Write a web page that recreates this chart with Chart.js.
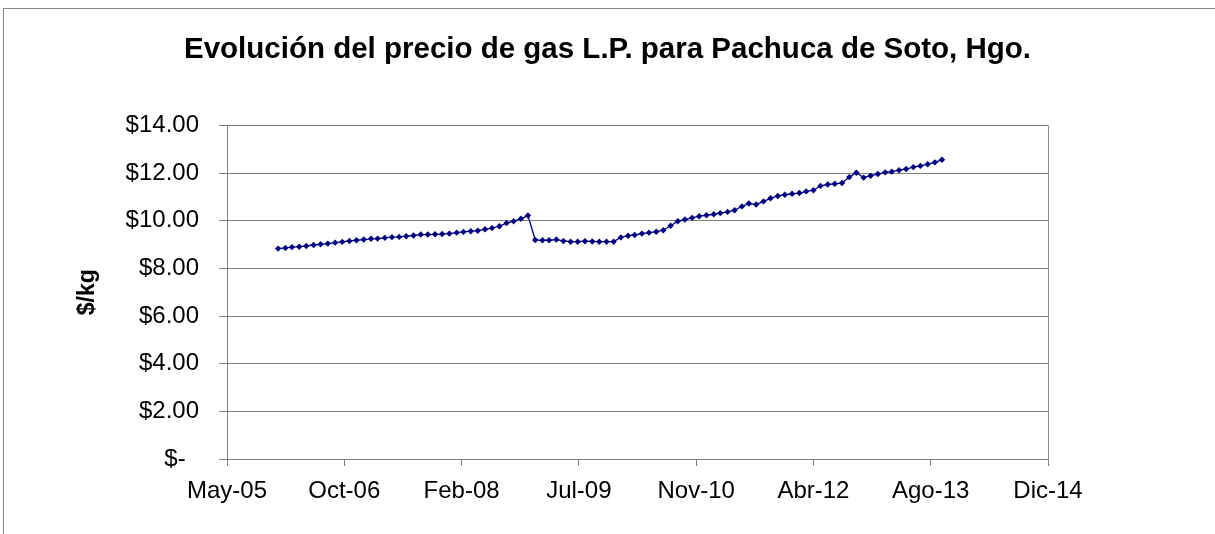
<!DOCTYPE html>
<html lang="es">
<head>
<meta charset="utf-8">
<title>Gas L.P. Pachuca de Soto</title>
<script src="https://cdn.jsdelivr.net/npm/chart.js@4.4.0/dist/chart.umd.min.js"></script>
<style>
  html, body { margin: 0; padding: 0; background: #fff; }
  #wrap { position: relative; width: 1215px; height: 534px; overflow: hidden; }
  #frame { position: absolute; left: 3px; top: 8px; width: 1300px; height: 600px;
           border-top: 1px solid #8a8a8a; border-left: 1px solid #8a8a8a; }
  #chart-container { position: absolute; left: 0; top: 0; }
</style>
</head>
<body>
<div id="wrap">
  <div id="frame"></div>
  <canvas id="chart-container" width="1215" height="534"></canvas>
</div>
<script>
// x axis: Excel date axis, 500-day steps starting late May 2005
const axisStart = Date.UTC(2005, 4, 28);
const tickLabels = ['May-05', 'Oct-06', 'Feb-08', 'Jul-09', 'Nov-10', 'Abr-12', 'Ago-13', 'Dic-14'];
const tickStep = 500;

// monthly prices, Jan 2006 .. Oct 2013 ($/kg)
const firstYear = 2006;
const firstMonth = 0;
const prices = [
  8.83, 8.86, 8.89, 8.91, 8.94, 8.98, 9.01, 9.04, 9.08, 9.11,
  9.15, 9.18, 9.21, 9.24, 9.25, 9.28, 9.31, 9.32, 9.35, 9.38,
  9.42, 9.42, 9.43, 9.44, 9.46, 9.50, 9.53, 9.56, 9.58, 9.64,
  9.69, 9.77, 9.90, 9.98, 10.08, 10.22, 9.19, 9.18, 9.18, 9.21,
  9.15, 9.12, 9.12, 9.14, 9.13, 9.12, 9.12, 9.12, 9.30, 9.37,
  9.40, 9.46, 9.50, 9.54, 9.60, 9.79, 9.98, 10.05, 10.12, 10.19,
  10.23, 10.27, 10.32, 10.37, 10.44, 10.60, 10.72, 10.68, 10.81, 10.94,
  11.04, 11.09, 11.13, 11.16, 11.23, 11.28, 11.46, 11.52, 11.55, 11.58,
  11.83, 12.01, 11.81, 11.89, 11.96, 12.03, 12.06, 12.12, 12.17, 12.25,
  12.30, 12.37, 12.45, 12.56
];

const dayMs = 86400000;
const points = prices.map((p, i) => ({
  x: (Date.UTC(firstYear, firstMonth + i, 1) - axisStart) / dayMs,
  y: p
}));

const fontFamily = '"Liberation Sans", Arial, sans-serif';

// plot area right edge (Excel draws a grey frame there)
const plotBorder = {
  id: 'plotBorder',
  afterDatasetsDraw(chart) {
    const a = chart.chartArea;
    const ctx = chart.ctx;
    ctx.save();
    ctx.strokeStyle = '#8c8c8c';
    ctx.lineWidth = 1;
    ctx.beginPath();
    ctx.moveTo(Math.round(a.right) + 0.5, a.top);
    ctx.lineTo(Math.round(a.right) + 0.5, a.bottom);
    ctx.stroke();
    ctx.restore();
  }
};

const chart = new Chart(document.getElementById('chart-container'), {
  type: 'line',
  data: {
    datasets: [{
      label: 'Precio gas L.P.',
      data: points,
      borderColor: '#000080',
      backgroundColor: '#000080',
      borderWidth: 1.3,
      pointStyle: 'rectRot',
      pointRadius: 3.2,
      pointBorderWidth: 0,
      tension: 0
    }]
  },
  options: {
    responsive: false,
    animation: false,
    layout: { padding: 0 },
    plugins: {
      legend: { display: false },
      tooltip: { enabled: false },
      title: {
        display: true,
        text: 'Evolución del precio de gas L.P. para Pachuca de Soto, Hgo.',
        color: '#000',
        font: { family: fontFamily, size: 29.5, weight: 'bold' },
        padding: { top: 32, bottom: 58 }
      }
    },
    scales: {
      x: {
        type: 'linear',
        min: 0,
        max: tickStep * (tickLabels.length - 1),
        afterBuildTicks: (scale) => {
          scale.ticks = tickLabels.map((_, i) => ({ value: i * tickStep }));
        },
        afterFit: (scale) => { scale.height = 75; },
        ticks: {
          color: '#000',
          font: { family: fontFamily, size: 24 },
          padding: 11,
          maxRotation: 0,
          autoSkip: false,
          callback: (v) => tickLabels[Math.round(v / tickStep)]
        },
        grid: { drawOnChartArea: false, color: '#808080', tickLength: 7 },
        border: { color: '#808080', width: 1 }
      },
      y: {
        min: 0,
        max: 14,
        afterFit: (scale) => { scale.width = 227; },
        ticks: {
          stepSize: 2,
          color: '#000',
          font: { family: fontFamily, size: 24 },
          padding: 20,
          callback: (v) => v === 0 ? '$-  ' : '$' + v.toFixed(2)
        },
        grid: { color: '#808080', tickLength: 8 },
        border: { color: '#808080', width: 1 },
        title: {
          display: true,
          text: '$/kg',
          color: '#000',
          font: { family: fontFamily, size: 23, weight: 'bold' },
          padding: { top: 74, bottom: 0 }
        }
      },
      // empty right-hand space so the title centres on the whole canvas
      yRight: {
        position: 'right',
        afterFit: (scale) => { scale.width = 167; },
        ticks: { display: false },
        grid: { display: false, drawTicks: false },
        border: { display: false }
      }
    }
  },
  plugins: [plotBorder]
});
</script>
</body>
</html>
